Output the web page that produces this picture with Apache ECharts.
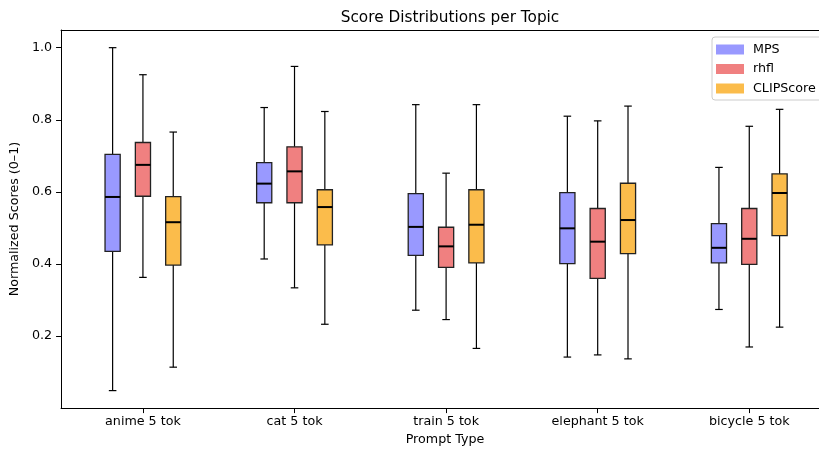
<!DOCTYPE html>
<html>
<head>
<meta charset="utf-8">
<script src="https://cdn.jsdelivr.net/npm/echarts@6/dist/echarts.min.js"></script>
<style>html,body{margin:0;padding:0;background:#fff}#c{width:819px;height:451px}</style>
</head>
<body>
<div id="c"></div>
<script>
// Categories (prompt types)
const categories = ['anime 5 tok', 'cat 5 tok', 'train 5 tok', 'elephant 5 tok', 'bicycle 5 tok'];
const seriesNames = ['MPS', 'rhfl', 'CLIPScore'];
const yTicks = [0.2, 0.4, 0.6, 0.8, 1.0];
// Five-number summaries per category: [lowWhisker, Q1, median, Q3, highWhisker]
const mps = [
  [0.049, 0.435, 0.586, 0.704, 1.000],
  [0.414, 0.570, 0.623, 0.681, 0.834],
  [0.272, 0.424, 0.503, 0.595, 0.842],
  [0.142, 0.401, 0.499, 0.598, 0.810],
  [0.274, 0.403, 0.445, 0.512, 0.668]
];
const rhfl = [
  [0.363, 0.588, 0.675, 0.737, 0.925],
  [0.334, 0.570, 0.657, 0.725, 0.948],
  [0.246, 0.391, 0.449, 0.502, 0.652],
  [0.148, 0.360, 0.462, 0.554, 0.797],
  [0.170, 0.399, 0.470, 0.554, 0.782]
];
const clipscore = [
  [0.114, 0.397, 0.516, 0.587, 0.766],
  [0.233, 0.453, 0.558, 0.606, 0.823],
  [0.166, 0.403, 0.509, 0.606, 0.842],
  [0.137, 0.429, 0.522, 0.624, 0.838],
  [0.225, 0.479, 0.597, 0.650, 0.829]
];
const colors = ['#9999ff', '#f08080', '#fbbc4b'];
const offsets = [-0.2, 0, 0.2];
const boxHalf = 0.05;

const FONT = 'DejaVu Sans';

function makeSeries(name, stats, idx) {
  return {
    name: name,
    type: 'custom',
    itemStyle: { color: colors[idx] },
    data: stats.map((s, i) => [i].concat(s)),
    encode: { x: 0, y: [1, 2, 3, 4, 5] },
    renderItem: function (params, api) {
      const c = api.value(0) + offsets[idx];
      const lo = api.value(1), q1 = api.value(2), med = api.value(3), q3 = api.value(4), hi = api.value(5);
      const pLo = api.coord([c, lo]);
      const pQ1 = api.coord([c, q1]);
      const pMed = api.coord([c, med]);
      const pQ3 = api.coord([c, q3]);
      const pHi = api.coord([c, hi]);
      const left = api.coord([c - boxHalf, q1])[0];
      const right = api.coord([c + boxHalf, q1])[0];
      const capL = api.coord([c - boxHalf / 2, q1])[0];
      const capR = api.coord([c + boxHalf / 2, q1])[0];
      const lineStyle = { stroke: '#000', lineWidth: 1.2 };
      return {
        type: 'group',
        children: [
          { type: 'line', shape: { x1: pLo[0], y1: pLo[1], x2: pQ1[0], y2: pQ1[1] }, style: lineStyle },
          { type: 'line', shape: { x1: pQ3[0], y1: pQ3[1], x2: pHi[0], y2: pHi[1] }, style: lineStyle },
          { type: 'line', shape: { x1: capL, y1: pLo[1], x2: capR, y2: pLo[1] }, style: lineStyle },
          { type: 'line', shape: { x1: capL, y1: pHi[1], x2: capR, y2: pHi[1] }, style: lineStyle },
          { type: 'rect', shape: { x: left, y: pQ3[1], width: right - left, height: pQ1[1] - pQ3[1] },
            style: { fill: colors[idx], stroke: '#222', lineWidth: 1.3 } },
          { type: 'line', shape: { x1: left, y1: pMed[1], x2: right, y2: pMed[1] }, style: { stroke: '#000', lineWidth: 2 } }
        ]
      };
    }
  };
}

const chart = echarts.init(document.getElementById('c'), null, { renderer: 'canvas' });
chart.setOption({
  animation: false,
  backgroundColor: '#fff',
  textStyle: { fontFamily: FONT },
  title: {
    text: 'Score Distributions per Topic',
    left: 445, top: 6, textAlign: 'center',
    textStyle: { fontFamily: FONT, fontSize: 15.3, fontWeight: 'normal', color: '#000' }
  },
  legend: {
    orient: 'vertical',
    left: 712, top: 37,
    data: seriesNames.map((n, i) => ({ name: n, icon: 'rect', itemStyle: { color: colors[i], borderWidth: 0 } })),
    itemWidth: 28, itemHeight: 10, itemGap: 6.5,
    padding: [6, 12, 5, 4],
    backgroundColor: 'rgba(255,255,255,0.8)',
    borderColor: '#cccccc', borderWidth: 1, borderRadius: 3,
    textStyle: { fontFamily: FONT, fontSize: 12.7, color: '#000', padding: [0, 0, 0, 4], lineHeight: 13 }
  },
  grid: { left: 61, top: 30, right: 0, height: 380, containLabel: false },
  xAxis: [{
    type: 'value',
    min: -0.54, max: 4.46,
    name: 'Prompt Type', nameLocation: 'middle', nameGap: 24,
    nameTextStyle: { fontFamily: FONT, fontSize: 12.7, color: '#000', padding: [0, 0, 0, 10] },
    axisLine: { show: true, onZero: false, lineStyle: { color: '#000', width: 1 } },
    axisTick: { show: true, length: 5, lineStyle: { color: '#000' }, customValues: [0, 1, 2, 3, 4] },
    axisLabel: { show: true, margin: 7, fontFamily: FONT, fontSize: 12.7, color: '#000',
      customValues: [0, 1, 2, 3, 4],
      formatter: v => categories[Math.round(v)] || '' },
    splitLine: { show: false }
  }, {
    type: 'value', position: 'top',
    min: -0.54, max: 4.46,
    axisLine: { show: true, onZero: false, lineStyle: { color: '#000', width: 1 } },
    axisTick: { show: false }, axisLabel: { show: false }, splitLine: { show: false }
  }],
  yAxis: {
    type: 'value',
    min: 0.0005, max: 1.049,
    name: 'Normalized Scores (0–1)', nameLocation: 'middle', nameGap: 36,
    nameTextStyle: { fontFamily: FONT, fontSize: 12.7, color: '#000' },
    axisLine: { show: true, onZero: false, lineStyle: { color: '#000', width: 1 } },
    axisTick: { show: true, length: 5, lineStyle: { color: '#000' }, customValues: yTicks },
    axisLabel: { show: true, margin: 9, fontFamily: FONT, fontSize: 12.7, color: '#000',
      customValues: yTicks, formatter: v => v.toFixed(1) },
    splitLine: { show: false }
  },
  series: [
    makeSeries('MPS', mps, 0),
    makeSeries('rhfl', rhfl, 1),
    makeSeries('CLIPScore', clipscore, 2)
  ]
});
</script>
</body>
</html>
